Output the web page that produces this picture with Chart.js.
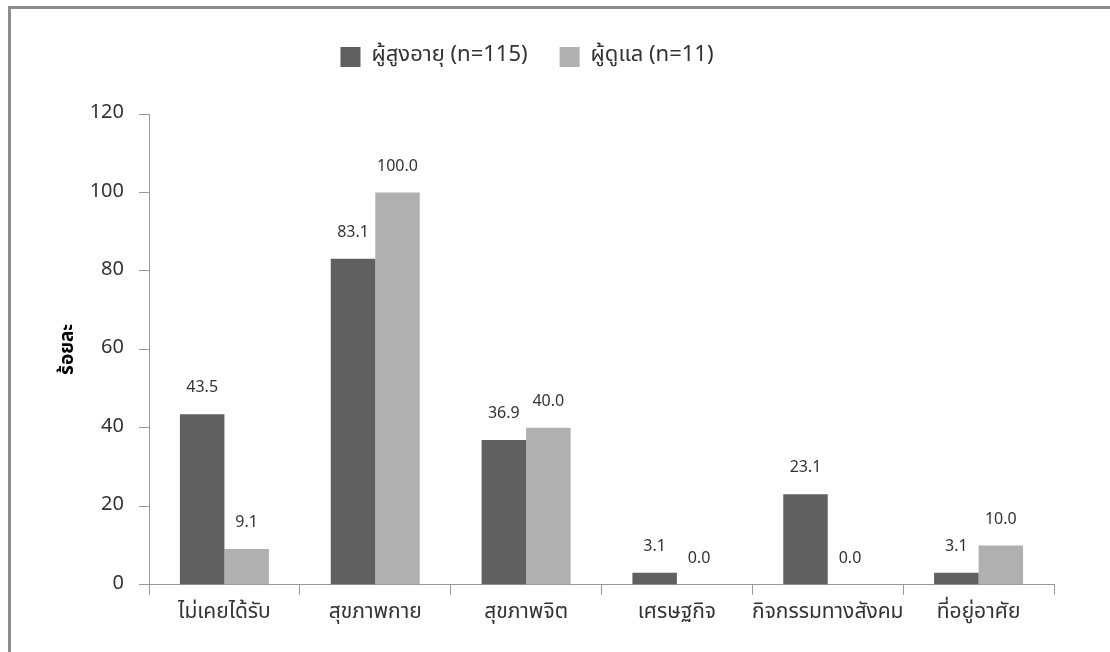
<!DOCTYPE html>
<html>
<head>
<meta charset="utf-8">
<script src="https://cdn.jsdelivr.net/npm/chart.js@4"></script>
<style>
  html, body { margin: 0; padding: 0; background: #fff; }
  .wrap { position: relative; width: 1110px; height: 652px; overflow: hidden; }
  .frame { position: absolute; left: 8px; top: 6px; width: 1200px; height: 700px;
           border-left: 3px solid #8c8c8c; border-top: 3px solid #8c8c8c; }
  canvas { position: absolute; left: 0; top: 0; }
</style>
</head>
<body>
<div class="wrap">
  <div class="frame"></div>
  <canvas id="chart" width="1110" height="652"></canvas>
</div>
<script>
var categories = ['ไม่เคยได้รับ', 'สุขภาพกาย', 'สุขภาพจิต', 'เศรษฐกิจ', 'กิจกรรมทางสังคม', 'ที่อยู่อาศัย'];
var elderly = [43.5, 83.1, 36.9, 3.1, 23.1, 3.1];
var caregivers = [9.1, 100.0, 40.0, 0.0, 0.0, 10.0];
var seriesNames = ['ผู้สูงอายุ (n=115)', 'ผู้ดูแล (n=11)'];
var yTitle = 'ร้อยละ';

var FONT = "'Noto Sans Thai', Tahoma, 'Noto Sans', 'DejaVu Sans', sans-serif";

// ตัวเลขเหนือแท่ง
var valueLabels = {
    id: 'valueLabels',
    afterDatasetsDraw: function (chart) {
        var ctx = chart.ctx;
        ctx.save();
        ctx.font = '16px ' + FONT;
        ctx.fillStyle = '#333';
        ctx.textAlign = 'center';
        ctx.textBaseline = 'middle';
        chart.data.datasets.forEach(function (ds, i) {
            chart.getDatasetMeta(i).data.forEach(function (bar, k) {
                ctx.fillText(ds.data[k].toFixed(1), bar.x, bar.y - 25);
            });
        });
        ctx.restore();
    }
};

// เว้นที่ใต้ legend
var legendSpace = {
    id: 'legendSpace',
    beforeInit: function (chart) {
        var fit = chart.legend.fit;
        chart.legend.fit = function () {
            fit.call(this);
            this.height += 36;
        };
    }
};

var ctx = document.getElementById('chart').getContext('2d');
var chart = new Chart(ctx, {
    type: 'bar',
    data: {
        labels: categories,
        datasets: [{
            label: seriesNames[0],
            data: elderly,
            backgroundColor: '#606060'
        }, {
            label: seriesNames[1],
            data: caregivers,
            backgroundColor: '#b0b0b0'
        }]
    },
    options: {
        responsive: false,
        animation: false,
        layout: { padding: { top: 14, right: 56, bottom: 20, left: 0 } },
        datasets: { bar: { categoryPercentage: 0.59, barPercentage: 1.0 } },
        plugins: {
            legend: {
                position: 'top',
                labels: {
                    font: { size: 22, family: FONT },
                    color: '#333',
                    boxWidth: 20,
                    boxHeight: 20,
                    padding: 32
                }
            },
            tooltip: { enabled: false }
        },
        scales: {
            x: {
                grid: { offset: true, drawOnChartArea: false, tickLength: 10, color: '#999' },
                border: { color: '#999' },
                ticks: { font: { size: 21, family: FONT }, color: '#333', padding: 6,
                         maxRotation: 0, minRotation: 0, autoSkip: false }
            },
            y: {
                min: 0,
                max: 120,
                afterFit: function (scale) { scale.width = 149; },
                grid: { drawOnChartArea: false, tickLength: 10, color: '#999' },
                border: { color: '#999' },
                ticks: { stepSize: 20, font: { size: 20, family: FONT }, color: '#333', padding: 15 },
                title: {
                    display: true,
                    text: yTitle,
                    font: { size: 19, weight: 'bold', family: FONT },
                    color: '#000',
                    padding: { top: 58, bottom: 0 }
                }
            }
        }
    },
    plugins: [valueLabels, legendSpace]
});
</script>
</body>
</html>
